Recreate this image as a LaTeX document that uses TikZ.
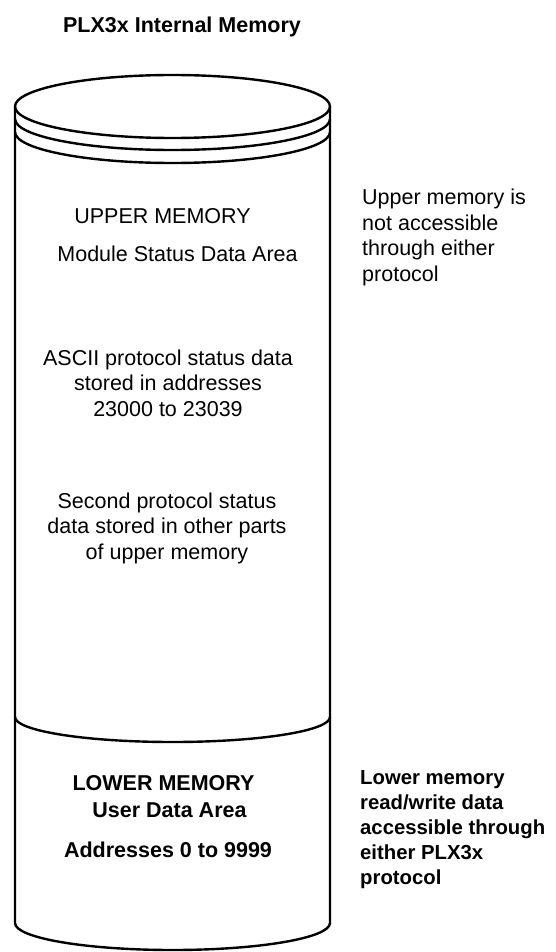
\documentclass[tikz,border=0pt]{standalone}
\usepackage{fontspec}
\setmainfont{Liberation Sans}
\usepackage{tikz}
\tikzset{
  mem_text/.style = {inner sep=0pt, align=center,
    font=\fontsize{21.5}{25.5}\selectfont},% texte dans le cylindre
  mem_bold/.style = {mem_text, font=\fontsize{21.5}{25.5}\selectfont\bfseries},% texte gras
  side_note/.style = {inner sep=0pt, align=left, anchor=north west,
    font=\fontsize{21.5}{25.7}\selectfont},% note a droite
  side_bold/.style = {side_note, font=\fontsize{20.3}{25}\selectfont\bfseries},% note a droite, gras
  mem_line/.style = {line width=2.4pt, black}% contour du cylindre
}
\begin{document}
\begin{tikzpicture}[x=1pt, y=1pt]
  \useasboundingbox (0,0) rectangle (556,-952);
  % cylindre
  \coordinate (top_c) at (172.5,-106.5);
  \draw [mem_line] (top_c) ellipse [x radius=157.5pt, y radius=31.5pt];
  \draw [mem_line] (15,-119) arc [start angle=180, end angle=360, x radius=157.5pt, y radius=31pt];
  \draw [mem_line] (15,-132) arc [start angle=180, end angle=360, x radius=157.5pt, y radius=31pt];
  \draw [mem_line] (15,-106.5) -- (15,-923)
    arc [start angle=180, end angle=360, x radius=157.5pt, y radius=27pt]
    -- (330,-106.5);
  \draw [mem_line] (15,-717) arc [start angle=180, end angle=360, x radius=157.5pt, y radius=25pt];
  % textes
  \node [mem_bold, anchor=base] (title) at (182,-33) {PLX3x Internal Memory};
  \node [mem_text, anchor=base] (upper) at (162.5,-223) {UPPER MEMORY};
  \node [mem_text, anchor=base] (status) at (177.5,-261) {Module Status Data Area};
  \node [mem_text, anchor=north] (ascii) at (168,-349.6)
    {ASCII protocol status data\\stored in addresses\\23000 to 23039};
  \node [mem_text, anchor=north] (second) at (167,-492.6)
    {Second protocol status\\data stored in other parts\\of upper memory};
  \node [mem_bold, anchor=base] (lower) at (163.5,-790) {LOWER MEMORY};
  \node [mem_bold, anchor=base] (user_area) at (169.5,-817) {User Data Area};
  \node [mem_bold, anchor=base] (addr) at (168,-857) {Addresses 0 to 9999};
  \node [side_note] (upper_note) at (362,-188.6)
    {Upper memory is\\not accessible\\through either\\protocol};
  \node [side_bold] (lower_note) at (360,-770.5)
    {Lower memory\\read/write data\\accessible through\\either PLX3x\\protocol};
\end{tikzpicture}
\end{document}
